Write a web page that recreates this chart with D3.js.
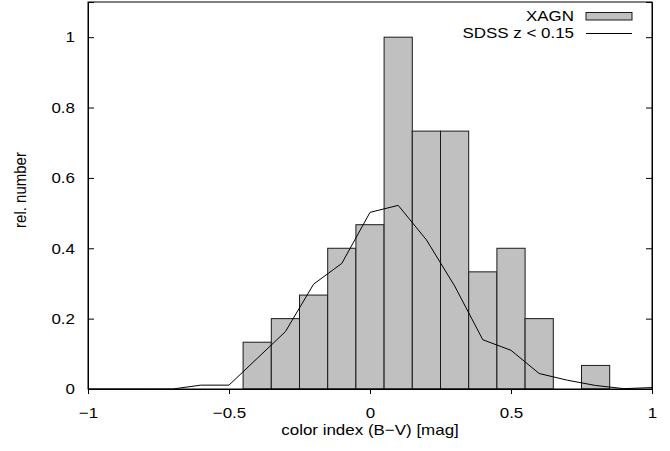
<!DOCTYPE html>
<html>
<head>
<meta charset="utf-8">
<script src="https://cdn.jsdelivr.net/npm/d3@7"></script>
<style>
  body { margin: 0; background: #fff; }
  text { font-family: "Liberation Sans", Arial, sans-serif; font-size: 15px; fill: #000; }
</style>
</head>
<body>
<div id="chart"></div>
<script>
// histogram bins (centres, width 0.1) and XAGN relative numbers
var binCenters = [-0.4, -0.3, -0.2, -0.1, 0, 0.1, 0.2, 0.3, 0.4, 0.5, 0.6, 0.7, 0.8];
var xagnValues = [0.133, 0.2, 0.267, 0.4, 0.467, 1.0, 0.733, 0.733, 0.333, 0.4, 0.2, 0, 0.067];
var binWidth = 0.1;

// SDSS z < 0.15 distribution
var sdssX = [-1, -0.9, -0.8, -0.7, -0.6, -0.5, -0.4, -0.3, -0.2, -0.1, 0, 0.1, 0.2, 0.3, 0.4, 0.5, 0.6, 0.7, 0.8, 0.9, 1.0];
var sdssY = [0, 0, 0, 0, 0.011, 0.011, 0.087, 0.163, 0.298, 0.357, 0.502, 0.522, 0.424, 0.293, 0.14, 0.11, 0.044, 0.025, 0.01, 0.001, 0.004];

var xTicks = [-1, -0.5, 0, 0.5, 1];
var yTicks = [0, 0.2, 0.4, 0.6, 0.8, 1];

// text in the picture is a bit wider than tall
var sx = 1.13;

var margin = { top: 2, right: 18, bottom: 62, left: 88 },
  width = 670 - margin.left - margin.right,
  height = 451 - margin.top - margin.bottom;

var svg = d3
  .select("#chart")
  .append("svg")
  .attr("width", 670)
  .attr("height", 451)
  .append("g")
  .attr("transform", "translate(" + margin.left + "," + margin.top + ")");

var x = d3.scaleLinear().domain([-1, 1]).range([0, width]);
var y = d3.scaleLinear().domain([0, 1.1]).range([height, 0]);

var fmt = function (d) {
  return d === 0 ? "0" : String(d).replace("-", "\u2212");
};

// bars
svg
  .selectAll(".bar")
  .data(binCenters)
  .enter()
  .append("rect")
  .attr("class", "bar")
  .attr("x", function (d) { return x(d - binWidth / 2); })
  .attr("y", function (d, i) { return y(xagnValues[i]); })
  .attr("width", function (d) { return x(d + binWidth / 2) - x(d - binWidth / 2); })
  .attr("height", function (d, i) { return y(0) - y(xagnValues[i]); })
  .style("fill", "#c0c0c0")
  .style("stroke", "#1a1a1a")
  .style("stroke-width", 1);

// SDSS line
var line = d3
  .line()
  .x(function (d) { return x(d); })
  .y(function (d, i) { return y(sdssY[i]); });

svg
  .append("path")
  .datum(sdssX)
  .attr("d", line)
  .style("fill", "none")
  .style("stroke", "#000")
  .style("stroke-width", 1);

// axes
var xAxis = svg
  .append("g")
  .attr("transform", "translate(0," + height + ")")
  .call(d3.axisBottom(x).tickValues(xTicks).tickFormat(fmt).tickSize(5).tickPadding(13.4));
xAxis.selectAll("text").attr("transform", "scale(" + sx + ",1)");

var yAxis = svg
  .append("g")
  .call(d3.axisLeft(y).tickValues(yTicks).tickFormat(fmt).tickSize(-6).tickPadding(11.5));
yAxis.selectAll("text").attr("transform", "scale(" + sx + ",1)");

svg
  .append("g")
  .attr("transform", "translate(" + width + ",0)")
  .call(d3.axisRight(y).tickValues(yTicks).tickFormat("").tickSize(-6));

svg.selectAll(".domain, .tick line").style("stroke", "#000");
svg.selectAll(".tick text").style("font-size", "15px").style("font-family", "Liberation Sans, Arial, sans-serif");

// frame
svg
  .append("rect")
  .attr("x", 0)
  .attr("y", 0)
  .attr("width", width)
  .attr("height", height)
  .style("fill", "none")
  .style("stroke", "#000")
  .style("stroke-width", 1);

// axis titles
svg
  .append("text")
  .attr("transform", "translate(" + width / 2 + "," + (height + 46) + ") scale(" + sx + ",1)")
  .attr("text-anchor", "middle")
  .text("color index (B\u2212V) [mag]");

svg
  .append("text")
  .attr("transform", "translate(" + (-62) + "," + (190 - margin.top) + ") rotate(-90) scale(1,1.08)")
  .attr("text-anchor", "middle")
  .text("rel. number");

// legend
var legend = svg.append("g").attr("transform", "translate(0," + (-margin.top) + ")");
var lx = 574 - margin.left;

legend
  .append("text")
  .attr("transform", "translate(" + lx + ",21) scale(" + sx + ",1)")
  .attr("text-anchor", "end")
  .text("XAGN");
legend
  .append("rect")
  .attr("x", 586 - margin.left)
  .attr("y", 12.5)
  .attr("width", 46)
  .attr("height", 7.5)
  .style("fill", "#c0c0c0")
  .style("stroke", "#1a1a1a");

legend
  .append("text")
  .attr("transform", "translate(" + lx + ",38) scale(" + sx + ",1)")
  .attr("text-anchor", "end")
  .text("SDSS z < 0.15");
legend
  .append("line")
  .attr("x1", 586 - margin.left)
  .attr("x2", 632 - margin.left)
  .attr("y1", 33.5)
  .attr("y2", 33.5)
  .style("stroke", "#000");
</script>
</body>
</html>
